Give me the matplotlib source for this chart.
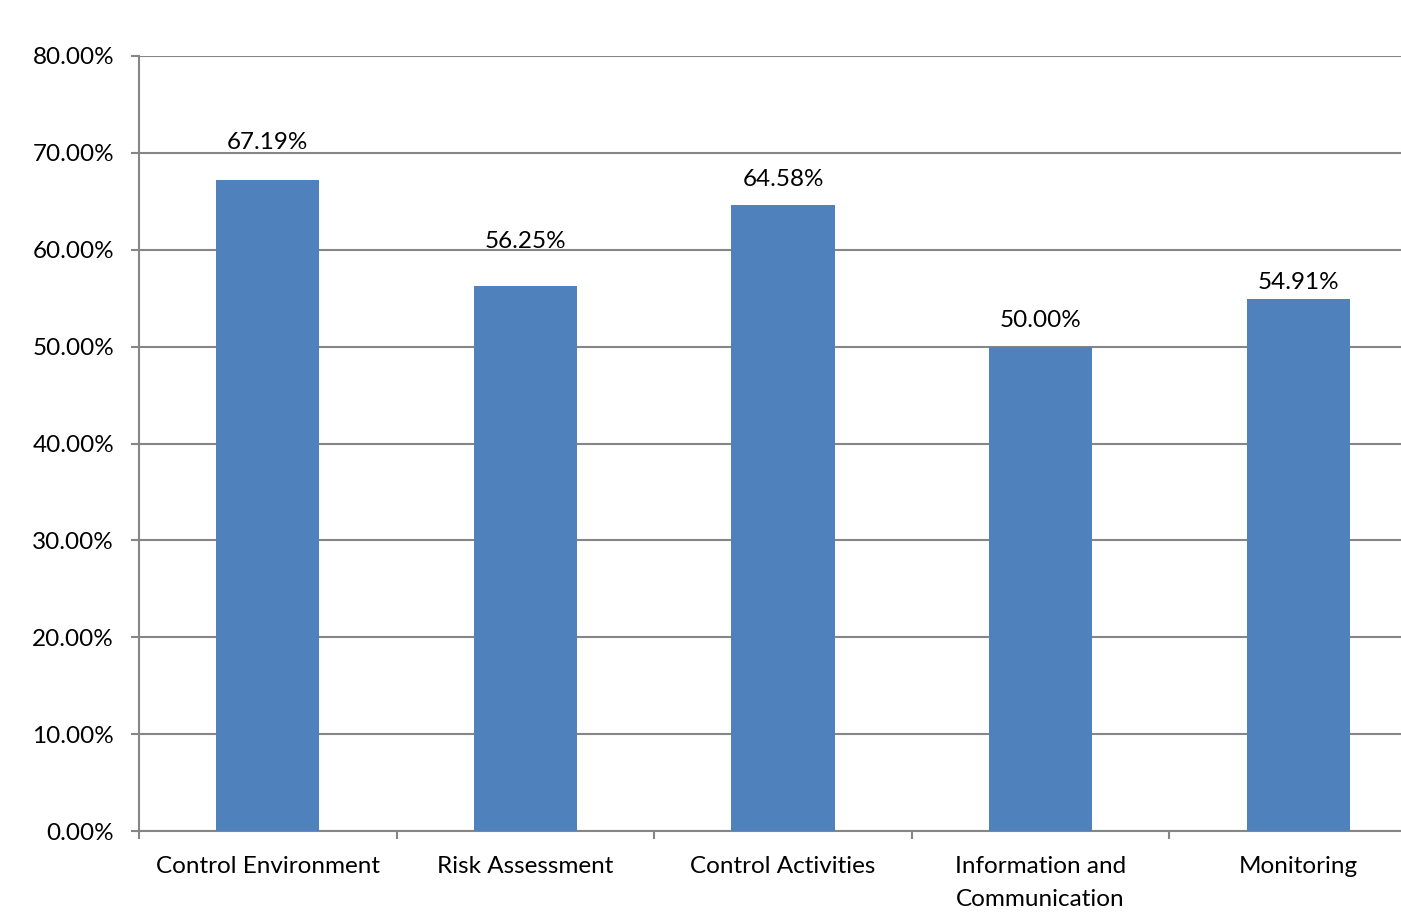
import matplotlib

matplotlib.use("Agg")

import matplotlib.pyplot as plt
from matplotlib.ticker import FuncFormatter, MultipleLocator, FixedLocator

# Scores per COSO component (percent)
components = [
    "Control Environment",
    "Risk Assessment",
    "Control Activities",
    "Information and\nCommunication",
    "Monitoring",
]
scores = [67.19, 56.25, 64.58, 50.00, 54.91]

# gap (points) between each bar top and its value label baseline
label_gaps = [22.3, 27.4, 13.7, 14.4, 7.2]

BAR_COLOR = "#4F81BD"
GRID_COLOR = "#868686"
FONT = "Lato"
FS = 17.5

fig = plt.figure(figsize=(14.01, 9.14), dpi=100)
# plot area runs a little past the right edge of the canvas
ax = fig.add_axes([139 / 1401, 1 - 831 / 914, 1288 / 1401, 775 / 914])

x = list(range(len(components)))
bars = ax.bar(x, scores, width=0.40, color=BAR_COLOR, zorder=3)

for rect, val, gap in zip(bars, scores, label_gaps):
    ax.annotate(f"{val:.2f}%", (rect.get_x() + rect.get_width() / 2, val),
                xytext=(0, gap), textcoords="offset points",
                ha="center", va="baseline", fontsize=FS, family=FONT,
                color="black")

ax.set_xlim(-0.5, len(components) - 0.5)
ax.set_ylim(0, 80)
ax.yaxis.set_major_locator(MultipleLocator(10))
ax.yaxis.set_major_formatter(FuncFormatter(lambda v, _: f"{v:.2f}%"))
ax.grid(axis="y", color=GRID_COLOR, linewidth=1.5, zorder=0)

# category labels between boundary ticks
ax.xaxis.set_major_locator(FixedLocator([i - 0.5 for i in range(len(components) + 1)]))
ax.xaxis.set_major_formatter(FuncFormatter(lambda v, _: ""))
ax.xaxis.set_minor_locator(FixedLocator(x))
ax.set_xticklabels(components, minor=True)
ax.tick_params(axis="x", which="minor", length=0, pad=18)
ax.tick_params(axis="x", which="major", length=6, width=1.5, color=GRID_COLOR)
ax.tick_params(axis="y", length=6, width=1.5, color=GRID_COLOR, pad=12)

for lbl in ax.get_xticklabels(minor=True) + ax.get_yticklabels():
    lbl.set_fontsize(FS)
    lbl.set_family(FONT)
    lbl.set_linespacing(1.7)

for side in ("top", "right"):
    ax.spines[side].set_visible(False)
for side in ("left", "bottom"):
    ax.spines[side].set_color(GRID_COLOR)
    ax.spines[side].set_linewidth(1.5)

fig.savefig("out.png", dpi=100)
